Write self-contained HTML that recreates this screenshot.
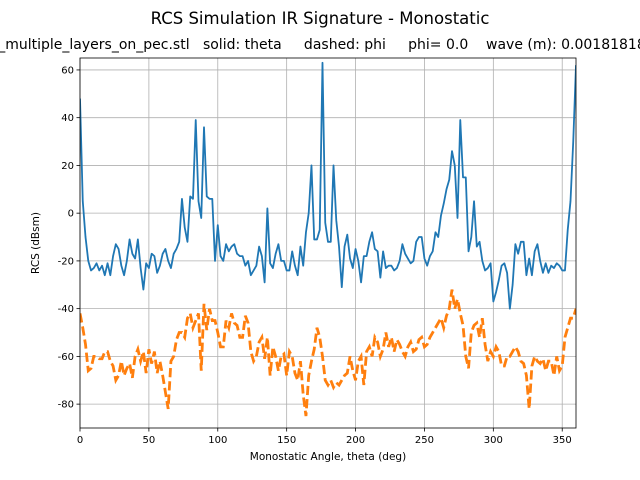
<!DOCTYPE html>
<html><head><meta charset="utf-8"><style>
body{margin:0;background:#fff;}
svg{display:block;font-family:"DejaVu Sans","Liberation Sans",sans-serif;}
</style></head><body>
<svg id="chart" width="640" height="480">
<text x="320" y="24" text-anchor="middle" font-size="16.5">RCS Simulation IR Signature - Monostatic</text>
<text x="322" y="49" text-anchor="middle" font-size="14" xml:space="preserve">_multiple_layers_on_pec.stl   solid: theta     dashed: phi     phi= 0.0    wave (m): 0.00181818</text>
<g id="grid"></g><g id="series"></g><g id="axes"></g>
<text x="328" y="460" text-anchor="middle" font-size="10.5">Monostatic Angle, theta (deg)</text>
<text transform="translate(39,243) rotate(-90)" text-anchor="middle" font-size="10.5">RCS (dBsm)</text>
</svg>
<script>
const xTicks=[0,50,100,150,200,250,300,350];
const yTicks=[-80,-60,-40,-20,0,20,40,60];
const thetaValues=[48,5,-10,-20,-24,-23,-21,-24,-22,-26,-21,-26,-18,-13,-15,-22,-26,-20,-11,-17,-19,-11,-23,-32,-21,-23,-17,-18,-25,-22,-17,-15,-20,-23,-17,-15,-12,6,-6,-12,7,6,39,5,-2,36,7,6,6,-20,-5,-18,-20,-13,-16,-14,-13,-17,-18,-18,-22,-20,-26,-24,-22,-14,-18,-29,2,-21,-23,-17,-13,-20,-20,-24,-24,-16,-22,-26,-14,-22,-8,0,20,-11,-11,-7,63,-4,-12,-12,20,-3,-14,-31,-14,-9,-19,-23,-15,-20,-29,-18,-18,-12,-8,-15,-16,-27,-16,-23,-22,-22,-24,-23,-20,-13,-17,-19,-21,-20,-12,-10,-10,-19,-22,-18,-16,-8,-10,-1,4,10,14,26,20,-2,39,15,15,-16,-10,5,-14,-12,-20,-24,-23,-21,-37,-33,-28,-22,-21,-25,-40,-30,-13,-17,-12,-12,-26,-19,-26,-16,-13,-20,-25,-21,-25,-22,-23,-21,-22,-24,-24,-7,5,30,62];
const phiValues=[-42,-48,-55,-66,-65,-60,-60,-61,-61,-58,-58,-62,-64,-70,-68,-62,-68,-65,-63,-69,-60,-57,-62,-58,-67,-57,-63,-58,-67,-62,-68,-75,-82,-62,-60,-53,-50,-50,-52,-44,-42,-48,-45,-42,-66,-38,-49,-40,-45,-45,-50,-56,-56,-45,-48,-42,-46,-47,-52,-52,-43,-46,-58,-62,-60,-54,-52,-61,-52,-68,-56,-60,-66,-60,-59,-68,-58,-60,-67,-70,-62,-76,-85,-68,-62,-57,-48,-52,-60,-70,-72,-70,-73,-71,-72,-70,-68,-67,-60,-66,-70,-62,-60,-72,-58,-56,-60,-52,-54,-60,-57,-50,-56,-52,-58,-53,-55,-58,-60,-56,-54,-58,-57,-53,-52,-56,-55,-52,-50,-48,-46,-44,-48,-43,-40,-32,-40,-36,-42,-47,-60,-65,-50,-47,-46,-52,-44,-55,-62,-58,-60,-56,-58,-64,-64,-60,-60,-58,-56,-58,-62,-63,-68,-82,-64,-60,-62,-63,-61,-66,-62,-62,-68,-60,-66,-64,-52,-48,-44,-44,-40];
const angleStep=2;
const L=80,R=576,T=58,B=428,xMin=0,xMax=360,yMin=-90,yMax=65;
const sx=v=>L+(v-xMin)/(xMax-xMin)*(R-L);
const sy=v=>B-(v-yMin)/(yMax-yMin)*(B-T);
const NS="http://www.w3.org/2000/svg";
function mk(tag,attrs,parent){const e=document.createElementNS(NS,tag);for(const k in attrs)e.setAttribute(k,attrs[k]);parent.appendChild(e);return e;}
const grid=document.getElementById('grid'),series=document.getElementById('series'),axes=document.getElementById('axes');
xTicks.forEach(t=>{
 const g=mk('line',{x1:sx(t),x2:sx(t),y1:T,y2:B,stroke:'#b0b0b0','stroke-width':0.8},grid);
 
 
 const tk=mk('line',{x1:sx(t),x2:sx(t),y1:B,y2:B+3.5,stroke:'#000','stroke-width':0.8},axes);
 
 
 const tx=mk('text',{x:sx(t),y:B+15,'text-anchor':'middle','font-size':10},axes);
 tx.textContent=t;
 
 
});
yTicks.forEach(t=>{
 const g=mk('line',{x1:L,x2:R,y1:sy(t),y2:sy(t),stroke:'#b0b0b0','stroke-width':0.8},grid);
 
 
 const tk=mk('line',{x1:L-3.5,x2:L,y1:sy(t),y2:sy(t),stroke:'#000','stroke-width':0.8},axes);
 
 
 const tx=mk('text',{x:L-6,y:sy(t)+3.5,'text-anchor':'end','font-size':10},axes);
 tx.textContent=t;
 
 
});
const frame=mk('rect',{x:L,y:T,width:R-L,height:B-T,fill:'none',stroke:'#000','stroke-width':0.8},axes);


const clip=mk('clipPath',{id:'pc'},series);mk('rect',{x:L,y:T,width:R-L,height:B-T},clip);
function pts(arr){return arr.map((v,i)=>sx(i*angleStep).toFixed(2)+','+sy(v).toFixed(2)).join(' ');}
const phiLine=mk('polyline',{points:pts(phiValues),fill:'none',stroke:'#ff7f0e','stroke-width':2.8,'stroke-dasharray':'9.25,4','clip-path':'url(#pc)'},series);


const thLine=mk('polyline',{points:pts(thetaValues),fill:'none',stroke:'#1f77b4','stroke-width':1.8,'stroke-linejoin':'round','clip-path':'url(#pc)'},series);


</script>
</body></html>
